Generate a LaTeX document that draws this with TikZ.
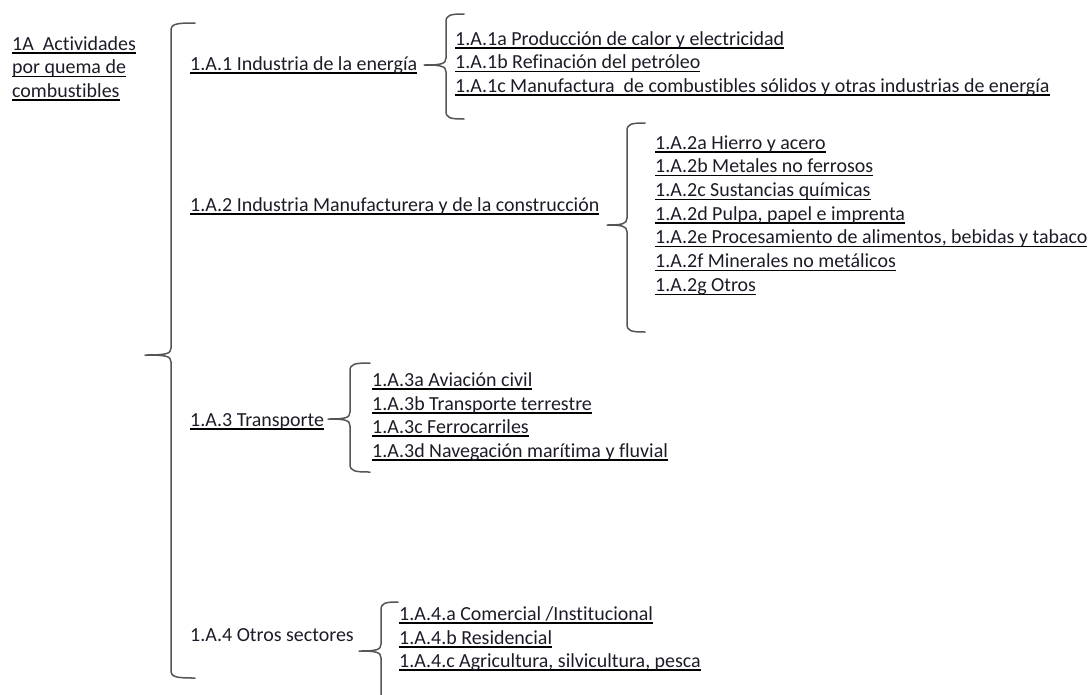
\documentclass[tikz,border=0pt]{standalone}
\usepackage{fontspec}
\setmainfont{Carlito}[Ligatures={NoCommon}]
\definecolor{txt}{RGB}{28,28,40}
\definecolor{brc}{RGB}{85,85,85}
% underlined label with the rule at a fixed depth below the baseline
\newcommand{\ulab}[1]{\setbox0\hbox{#1}\rlap{\color{black}\rule[-3.6pt]{\wd0}{1.3pt}}\box0}
% left curly brace: vertical x, top y, tip x, tip y, bottom y, end x
\newcommand{\wbrace}[6]{%
  \draw[bracestyle] (#6,#2) .. controls ({#1+4},#2) and (#1,{#2+1}) .. (#1,{#2+8})
    -- (#1,{#4-7}) .. controls (#1,{#4-1}) and ({#1-5},#4) .. (#3,#4)
    .. controls ({#1-5},#4) and (#1,{#4+1}) .. (#1,{#4+7})
    -- (#1,{#5-8}) .. controls (#1,{#5-1}) and ({#1+4},#5) .. (#6,#5);}
\begin{document}
\begin{tikzpicture}[x=1pt,y=-1pt,
  lab/.style={anchor=base west,inner sep=0pt,text=txt,font=\fontsize{19.95}{23.5}\selectfont},
  bracestyle/.style={draw=brc,line width=1.5pt,line cap=round,line join=round}]
\useasboundingbox (0,0) rectangle (1089,694);
\begin{scope}
\clip (0,0) rectangle (1089,694);
% root
\node[lab] (root1) at (12,50) {\ulab{1A\ \ Actividades}};
\node[lab] (root2) at (12,73.5) {\ulab{por quema de}};
\node[lab] (root3) at (12,97) {\ulab{combustibles}};
% main brace
\wbrace{171}{23}{145}{355}{678}{195}
% level 2
\node[lab] (a1) at (190,70) {\ulab{1.A.1 Industria de la energía}};
\node[lab] (a2) at (190,211) {\ulab{1.A.2 Industria Manufacturera y de la construcción}};
\node[lab] (a3) at (190,426) {\ulab{1.A.3 Transporte}};
\node[lab] (a4) at (190,641) {1.A.4 Otros sectores};
% 1.A.1
\wbrace{446}{14}{424}{65}{119}{464}
\node[lab] (a1a) at (455,45) {\ulab{1.A.1a Producción de calor y electricidad}};
\node[lab] (a1b) at (455,68.5) {\ulab{1.A.1b Refinación del petróleo}};
\node[lab] (a1c) at (455,92) {\ulab{1.A.1c Manufactura\ \ de combustibles sólidos y otras industrias de energía}};
% 1.A.2
\wbrace{627}{123}{607}{225}{332}{645}
\node[lab] (a2a) at (655,149) {\ulab{1.A.2a Hierro y acero}};
\node[lab] (a2b) at (655,172.7) {\ulab{1.A.2b Metales no ferrosos}};
\node[lab] (a2c) at (655,196.4) {\ulab{1.A.2c Sustancias químicas}};
\node[lab] (a2d) at (655,220.1) {\ulab{1.A.2d Pulpa, papel e imprenta}};
\node[lab] (a2e) at (655,243.8) {\ulab{1.A.2e Procesamiento de alimentos, bebidas y tabaco}};
\node[lab] (a2f) at (655,267.5) {\ulab{1.A.2f Minerales no metálicos}};
\node[lab] (a2g) at (655,291.2) {\ulab{1.A.2g Otros}};
% 1.A.3
\wbrace{350}{363}{328}{419}{472}{370}
\node[lab] (a3a) at (372,386) {\ulab{1.A.3a Aviación civil}};
\node[lab] (a3b) at (372,410) {\ulab{1.A.3b Transporte terrestre}};
\node[lab] (a3c) at (372,433) {\ulab{1.A.3c Ferrocarriles}};
\node[lab] (a3d) at (372,457) {\ulab{1.A.3d Navegación marítima y fluvial}};
% 1.A.4
\wbrace{381}{602}{359}{651}{740}{398}
\node[lab] (a4a) at (399,620) {\ulab{1.A.4.a Comercial /Institucional}};
\node[lab] (a4b) at (399,644) {\ulab{1.A.4.b Residencial}};
\node[lab] (a4c) at (399,667) {\ulab{1.A.4.c Agricultura, silvicultura, pesca}};
\end{scope}
\end{tikzpicture}
\end{document}
